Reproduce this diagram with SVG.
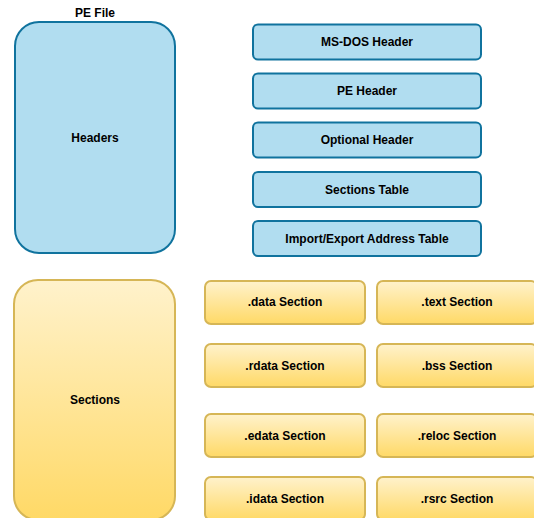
<svg xmlns="http://www.w3.org/2000/svg" width="534" height="518" viewBox="0 0 534 518">
<defs>
<linearGradient id="yg" x1="0" y1="0" x2="0" y2="1">
<stop offset="0" stop-color="#fff2cc"/>
<stop offset="1" stop-color="#ffd966"/>
</linearGradient>
<style>
.blue{fill:#b1ddf0;stroke:#10739e;stroke-width:2}
.yel{fill:url(#yg);stroke:#d6b656;stroke-width:2}
text{font-family:"Liberation Sans",Arial,sans-serif;font-weight:bold;font-size:12px;fill:#000;text-anchor:middle;dominant-baseline:central}
</style>
</defs>
<rect width="534" height="518" fill="#fff"/>
<g id="connectors"></g>
<g id="title"><text x="95" y="13">PE File</text></g>
<g id="headers"><rect class="blue" x="15" y="22" width="160" height="231" rx="24"/><text x="95" y="137.5">Headers</text></g>
<g id="msdos"><rect class="blue" x="253" y="24.5" width="228" height="35" rx="5"/><text x="367" y="42">MS-DOS Header</text></g>
<g id="peheader"><rect class="blue" x="253" y="73.5" width="228" height="35" rx="5"/><text x="367" y="91">PE Header</text></g>
<g id="optional"><rect class="blue" x="253" y="122.5" width="228" height="35" rx="5"/><text x="367" y="140">Optional Header</text></g>
<g id="sectable"><rect class="blue" x="253" y="172" width="228" height="35" rx="5"/><text x="367" y="189.5">Sections Table</text></g>
<g id="iat"><rect class="blue" x="253" y="221" width="228" height="35" rx="5"/><text x="367" y="238.5">Import/Export Address Table</text></g>
<g id="sections"><rect class="yel" x="14" y="280" width="161" height="240" rx="24"/><text x="95" y="400">Sections</text></g>
<g id="data"><rect class="yel" x="205" y="281" width="160" height="43" rx="6"/><text x="285" y="302">.data Section</text></g>
<g id="text"><rect class="yel" x="377" y="281" width="160" height="43" rx="6"/><text x="457" y="302">.text Section</text></g>
<g id="rdata"><rect class="yel" x="205" y="344" width="160" height="43" rx="6"/><text x="285" y="365.5">.rdata Section</text></g>
<g id="bss"><rect class="yel" x="377" y="344" width="160" height="43" rx="6"/><text x="457" y="365.5">.bss Section</text></g>
<g id="edata"><rect class="yel" x="205" y="414" width="160" height="43" rx="6"/><text x="285" y="435.5">.edata Section</text></g>
<g id="reloc"><rect class="yel" x="377" y="414" width="160" height="43" rx="6"/><text x="457" y="435.5">.reloc Section</text></g>
<g id="idata"><rect class="yel" x="205" y="477" width="160" height="43" rx="6"/><text x="285" y="498.5">.idata Section</text></g>
<g id="rsrc"><rect class="yel" x="377" y="477" width="160" height="43" rx="6"/><text x="457" y="498.5">.rsrc Section</text></g>
</svg>
